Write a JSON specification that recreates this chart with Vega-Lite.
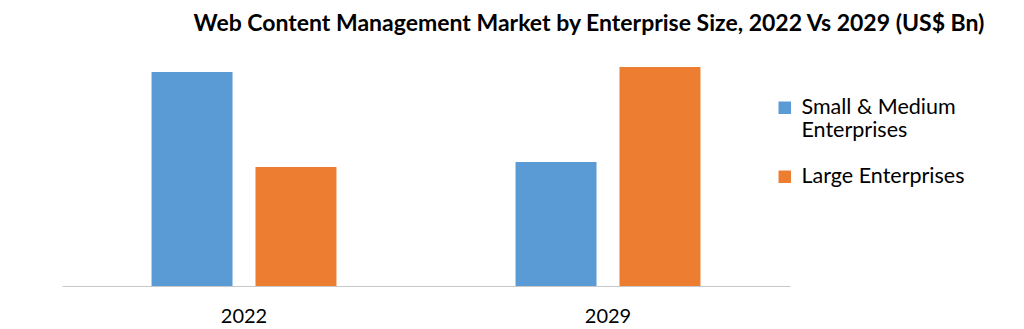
{
  "$schema": "https://vega.github.io/schema/vega-lite/v6.json",
  "width": 728,
  "height": 240,
  "autosize": {"type": "none"},
  "padding": {"left": 62, "top": 46, "right": 234, "bottom": 43},
  "background": "white",
  "title": {
    "text": "Web Content Management Market by Enterprise Size, 2022 Vs 2029 (US$ Bn)",
    "font": "Lato",
    "fontSize": 23,
    "fontWeight": "bold",
    "color": "#000000",
    "anchor": "middle",
    "dx": 163,
    "offset": 10
  },
  "data": {
    "values": [
      {"year": "2022", "segment": "Small & Medium Enterprises", "value": 2.14},
      {"year": "2022", "segment": "Large Enterprises", "value": 1.19},
      {"year": "2029", "segment": "Small & Medium Enterprises", "value": 1.24},
      {"year": "2029", "segment": "Large Enterprises", "value": 2.19}
    ]
  },
  "mark": {"type": "bar"},
  "encoding": {
    "x": {
      "field": "year",
      "type": "nominal",
      "scale": {"paddingInner": 0.492, "paddingOuter": 0.246},
      "axis": {
        "title": null,
        "labelAngle": 0,
        "ticks": false,
        "domainColor": "#c8c8c8",
        "labelFont": "Lato",
        "labelFontSize": 20,
        "labelColor": "#000000",
        "labelPadding": 20,
        "grid": false
      }
    },
    "xOffset": {
      "field": "segment",
      "type": "nominal",
      "sort": ["Small & Medium Enterprises", "Large Enterprises"],
      "scale": {"paddingInner": 0.221, "paddingOuter": 0}
    },
    "y": {
      "field": "value",
      "type": "quantitative",
      "scale": {"domain": [0, 2.4]},
      "axis": null
    },
    "color": {
      "field": "segment",
      "type": "nominal",
      "sort": ["Small & Medium Enterprises", "Large Enterprises"],
      "scale": {"range": ["#5b9bd5", "#ed7d31"]},
      "legend": {
        "title": null,
        "orient": "none",
        "legendX": 712,
        "legendY": 51,
        "symbolType": "square",
        "symbolSize": 156,
        "symbolStrokeWidth": 0,
        "labelFont": "Lato",
        "labelFontSize": 21.5,
        "labelLineHeight": 28,
        "labelColor": "#000000",
        "labelOffset": 6,
        "rowPadding": 23,
        "labelLimit": 300,
        "labelExpr": "datum.label == 'Small & Medium Enterprises' ? ['Small & Medium', 'Enterprises'] : datum.label"
      }
    }
  },
  "config": {"view": {"stroke": null}}
}
